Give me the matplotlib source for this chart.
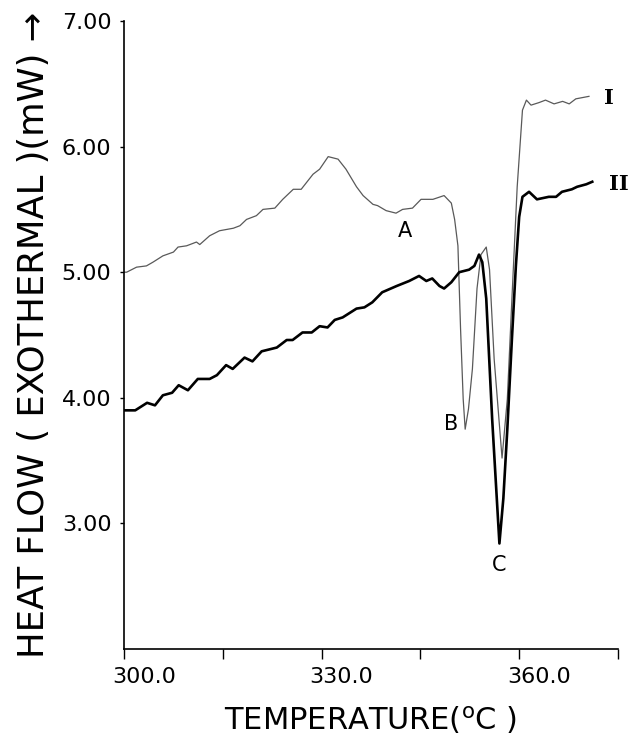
import matplotlib
matplotlib.use("Agg")
import matplotlib.pyplot as plt
from matplotlib.transforms import ScaledTranslation

# curve I (thin trace)
temp_I = [300.0, 300.4, 301.9, 303.4, 304.4, 305.9, 307.5, 308.2, 309.5, 311.0, 311.5,
          313.0, 314.5, 316.6, 317.6, 318.6, 320.1, 321.1, 322.9, 324.1, 325.7, 326.9,
          328.7, 329.7, 331.0, 332.5, 333.7, 335.3, 336.3, 337.8, 338.5, 339.8, 341.3,
          342.3, 343.8, 345.1, 346.9, 348.6, 349.7, 350.2, 350.7, 351.1, 351.5, 351.8,
          352.3, 352.9, 353.6, 354.2, 355.0, 355.5, 356.2, 357.4, 358.2, 358.9, 359.7,
          360.5, 361.1, 361.8, 363.0, 364.0, 365.3, 366.6, 367.6, 368.6, 370.6]
flow_I = [5.00, 5.00, 5.04, 5.05, 5.08, 5.13, 5.16, 5.20, 5.21, 5.24, 5.22,
          5.29, 5.33, 5.35, 5.37, 5.42, 5.45, 5.50, 5.51, 5.58, 5.66, 5.66,
          5.78, 5.82, 5.92, 5.90, 5.82, 5.68, 5.61, 5.54, 5.53, 5.49, 5.47,
          5.50, 5.51, 5.58, 5.58, 5.61, 5.55, 5.42, 5.21, 4.55, 3.99, 3.75,
          3.91, 4.23, 4.87, 5.14, 5.20, 5.02, 4.31, 3.52, 3.99, 4.79, 5.68,
          6.29, 6.37, 6.33, 6.35, 6.37, 6.34, 6.36, 6.34, 6.38, 6.40]

# curve II (thick trace)
temp_II = [300.0, 301.7, 303.5, 304.7, 305.9, 307.3, 308.3, 309.7, 311.2, 313.0, 314.1,
           315.5, 316.5, 318.3, 319.5, 320.9, 323.2, 324.7, 325.6, 327.1, 328.5, 329.7,
           330.9, 332.0, 333.2, 335.3, 336.5, 337.7, 339.2, 341.4, 343.3, 344.8, 345.9,
           346.8, 347.9, 348.6, 349.7, 350.9, 352.4, 353.2, 353.9, 354.4, 355.0, 355.9,
           357.0, 357.6, 358.2, 358.9, 359.5, 360.0, 360.5, 361.5, 362.7, 364.5, 365.6,
           366.5, 368.0, 368.8, 370.2, 371.1]
flow_II = [3.90, 3.90, 3.96, 3.94, 4.02, 4.04, 4.10, 4.06, 4.15, 4.15, 4.18,
           4.26, 4.23, 4.32, 4.29, 4.37, 4.40, 4.46, 4.46, 4.52, 4.52, 4.57,
           4.56, 4.62, 4.64, 4.71, 4.72, 4.76, 4.84, 4.89, 4.93, 4.97, 4.93,
           4.95, 4.89, 4.87, 4.92, 5.00, 5.02, 5.05, 5.14, 5.08, 4.79, 3.83,
           2.84, 3.20, 3.75, 4.47, 5.05, 5.44, 5.60, 5.64, 5.58, 5.60, 5.60,
           5.64, 5.66, 5.68, 5.70, 5.72]

x_ticks = [300, 315, 330, 345, 360, 375]
x_labels = ["300.0", "", "330.0", "", "360.0", ""]
y_ticks = [3, 4, 5, 6, 7]
y_labels = ["3.00", "4.00", "5.00", "6.00", "7.00"]

fig = plt.figure(figsize=(6.28, 7.44), dpi=100)
ax = fig.add_axes([0.1975, 0.1277, 0.7865, 0.8441])

ax.plot(temp_I, flow_I, color="0.35", lw=0.9)
ax.plot(temp_II, flow_II, color="black", lw=1.9)

ax.set_xlim(300, 375)
ax.set_ylim(2.0, 7.0)
ax.set_xticks(x_ticks)
ax.set_xticklabels(x_labels, fontsize=16)
ax.set_yticks(y_ticks)
ax.set_yticklabels(y_labels, fontsize=16)
ax.tick_params(axis="x", direction="out", length=7, width=1.0, pad=6)
ax.tick_params(axis="y", direction="out", length=3, width=1.0, pad=6)
for s in ["top", "right"]:
    ax.spines[s].set_visible(False)
for s in ["left", "bottom"]:
    ax.spines[s].set_linewidth(1.2)

# x tick labels sit a little right of their ticks in the original
shift = ScaledTranslation(0.2, 0, fig.dpi_scale_trans)
for lab in ax.get_xticklabels():
    lab.set_transform(lab.get_transform() + shift)

ax.set_xlabel(r"TEMPERATURE($^{\mathrm{o}}$C )", fontsize=22, labelpad=12)
ax.set_ylabel("HEAT FLOW ( EXOTHERMAL )(mW) →", fontsize=25.5, labelpad=8)

# peak labels
ax.text(342.6, 5.33, "A", fontsize=15, ha="center", va="center")
ax.text(349.7, 3.79, "B", fontsize=15, ha="center", va="center")
ax.text(357.0, 2.67, "C", fontsize=15, ha="center", va="center")
ax.text(373.6, 6.39, "I", fontsize=15, family="DejaVu Serif", weight="bold",
        ha="center", va="center")
ax.text(375.2, 5.70, "II", fontsize=15, family="DejaVu Serif", weight="bold",
        ha="center", va="center")

fig.savefig("out.png", dpi=100)
